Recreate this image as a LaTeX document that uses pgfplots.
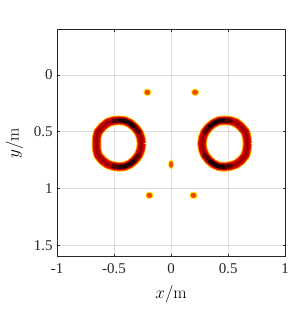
\documentclass[border=0pt]{standalone}
\usepackage[no-math]{fontspec}
\setmainfont{Liberation Serif}
\usepackage{pgfplots}
\pgfplotsset{compat=1.18}
\definecolor{axcol}{RGB}{38,38,38}
\definecolor{ylw}{RGB}{255,230,20}
\definecolor{org}{RGB}{255,130,0}
\definecolor{rd}{RGB}{225,10,0}
\definecolor{drd}{RGB}{190,0,0}
\definecolor{ddrd}{RGB}{150,0,0}
\definecolor{blk}{RGB}{90,0,0}
\definecolor{vblk}{RGB}{30,0,0}
\definecolor{dotc}{RGB}{245,70,0}

\pgfplotstableread{
x y
-0.258 0.605
-0.266 0.552
-0.285 0.503
-0.318 0.461
-0.359 0.427
-0.407 0.404
-0.458 0.400
-0.509 0.404
-0.557 0.420
-0.600 0.455
-0.640 0.503
-0.652 0.552
-0.654 0.605
-0.652 0.658
-0.640 0.707
-0.600 0.755
-0.557 0.786
-0.509 0.802
-0.458 0.809
-0.407 0.805
-0.359 0.784
-0.318 0.749
-0.285 0.707
-0.266 0.658
-0.258 0.605
}\leftring

\pgfplotstableread{
x y
0.670 0.605
0.664 0.552
0.652 0.503
0.612 0.455
0.569 0.420
0.521 0.404
0.470 0.400
0.419 0.404
0.371 0.427
0.330 0.461
0.297 0.503
0.278 0.552
0.270 0.605
0.278 0.658
0.297 0.707
0.330 0.749
0.371 0.784
0.419 0.805
0.470 0.809
0.521 0.802
0.569 0.786
0.612 0.755
0.652 0.707
0.664 0.658
0.670 0.605
}\rightring

\begin{document}
\begin{tikzpicture}
\begin{axis}[
  scale only axis, width=228bp, height=227bp,
  xmin=-1, xmax=1, ymin=-0.4, ymax=1.6, y dir=reverse,
  xtick={-1,-0.5,0,0.5,1}, xticklabels={-1,-0.5,0,0.5,1},
  ytick={0,0.5,1,1.5}, yticklabels={0,0.5,1,1.5},
  tick align=inside, major tick length=2.5bp,
  xmajorgrids, ymajorgrids,
  grid style={color=axcol, opacity=0.15, line width=0.8bp},
  axis line style={color=axcol, line width=0.6bp},
  every tick/.style={color=axcol, line width=0.6bp},
  tick label style={font=\fontsize{15}{17}\selectfont, text=axcol},
  xticklabel style={yshift=-3bp},
  yticklabel style={xshift=-1bp},
  xlabel={$x/\mathrm{m}$}, ylabel={$y/\mathrm{m}$},
  xlabel style={yshift=-5bp},
  ylabel style={yshift=4bp},
  label style={font=\fontsize{16}{18}\selectfont},
  axis on top,
  line join=round,
]
% rings: layered bands
\addplot[draw=ylw, line width=9.8bp, mark=none] table {\leftring};
\addplot[draw=org, line width=8.8bp, mark=none] table {\leftring};
\addplot[draw=rd, line width=7.5bp, mark=none] table {\leftring};
\addplot[draw=drd, line width=5bp, mark=none] table {\leftring};
\addplot[draw=ddrd, line width=2bp, mark=none] table {\leftring};
\addplot[draw=ylw, line width=9.8bp, mark=none] table {\rightring};
\addplot[draw=org, line width=8.8bp, mark=none] table {\rightring};
\addplot[draw=rd, line width=7.5bp, mark=none] table {\rightring};
\addplot[draw=drd, line width=5bp, mark=none] table {\rightring};
\addplot[draw=ddrd, line width=2bp, mark=none] table {\rightring};
% dark regions
\addplot[draw=blk, line width=4.5bp, line cap=round, mark=none] coordinates {(-0.285,0.503)(-0.318,0.461)(-0.359,0.427)(-0.407,0.404)(-0.458,0.400)(-0.509,0.404)};
\addplot[draw=vblk, line width=4bp, line cap=round, mark=none] coordinates {(-0.330,0.450)(-0.359,0.427)(-0.407,0.404)(-0.445,0.401)};
\addplot[draw=blk, line width=4.5bp, line cap=round, mark=none] coordinates {(-0.509,0.802)(-0.458,0.809)(-0.407,0.805)(-0.359,0.784)(-0.318,0.749)(-0.285,0.707)};
\addplot[draw=vblk, line width=4bp, line cap=round, mark=none] coordinates {(-0.445,0.808)(-0.407,0.805)(-0.359,0.784)(-0.330,0.760)};
\addplot[draw=blk, line width=4.5bp, line cap=round, mark=none] coordinates {(0.521,0.404)(0.470,0.400)(0.419,0.404)(0.371,0.427)(0.330,0.461)(0.297,0.503)};
\addplot[draw=vblk, line width=4bp, line cap=round, mark=none] coordinates {(0.457,0.401)(0.419,0.404)(0.371,0.427)(0.342,0.450)};
\addplot[draw=blk, line width=4.5bp, line cap=round, mark=none] coordinates {(0.297,0.707)(0.330,0.749)(0.371,0.784)(0.419,0.805)(0.470,0.809)(0.521,0.802)};
\addplot[draw=vblk, line width=4bp, line cap=round, mark=none] coordinates {(0.342,0.760)(0.371,0.784)(0.419,0.805)(0.457,0.808)};
% small spots
\addplot[only marks, color=ylw, mark=*, mark size=3.5bp, mark options={xscale=1.1}] coordinates {(-0.208,0.153)(0.21,0.153)(-0.19,1.06)(0.196,1.06)};
\addplot[only marks, color=dotc, mark=*, mark size=2.4bp, mark options={xscale=1.1}] coordinates {(-0.208,0.153)(0.21,0.153)(-0.19,1.06)(0.196,1.06)};
\addplot[only marks, color=ylw, mark=*, mark size=2.7bp, mark options={yscale=1.7}] coordinates {(0,0.788)};
\addplot[only marks, color=dotc, mark=*, mark size=1.8bp, mark options={yscale=1.7}] coordinates {(0,0.788)};
\end{axis}
\path ([xshift=-57bp,yshift=-55.3bp]current axis.south west) rectangle ([xshift=14bp,yshift=29.5bp]current axis.north east);
\end{tikzpicture}
\end{document}
